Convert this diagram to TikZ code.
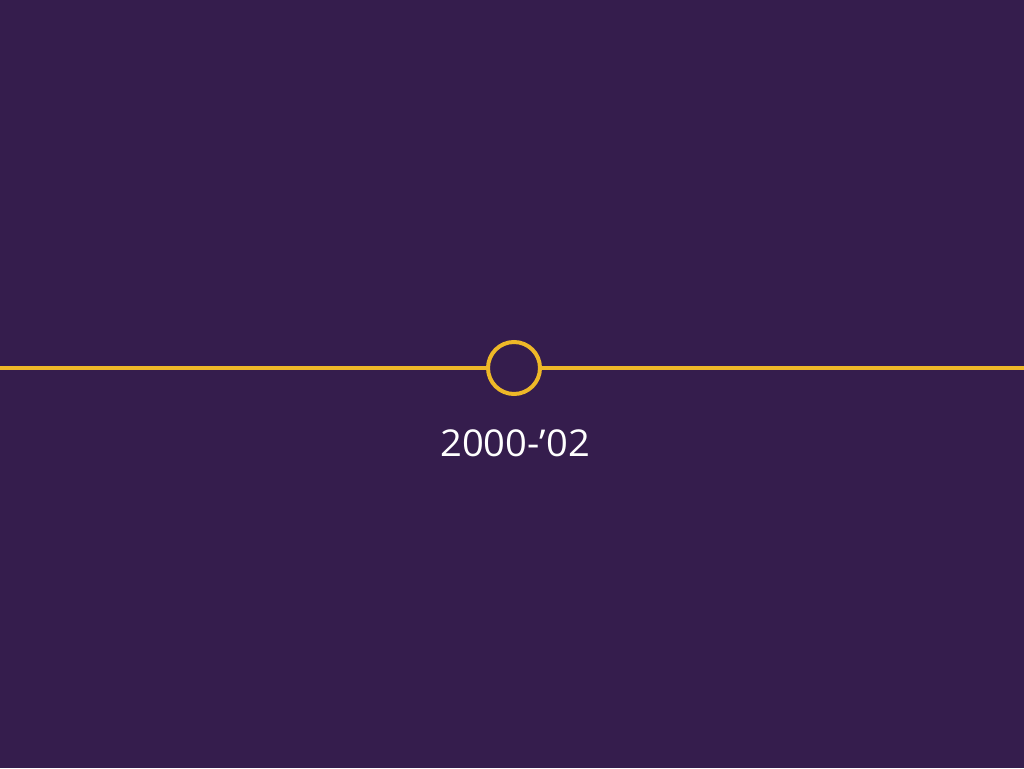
\documentclass[tikz,border=0pt]{standalone}
\usepackage{fontspec}
\setmainfont{Open Sans}
\definecolor{bgpurple}{RGB}{53,29,77}
\definecolor{lineyellow}{RGB}{238,184,40}
\begin{document}
\begin{tikzpicture}[x=1pt,y=1pt,
  tl/.style={draw=lineyellow,line width=4pt},
  dot/.style={circle,draw=lineyellow,line width=4pt,minimum size=52pt,inner sep=0pt},
  lbl/.style={text=white,font=\fontsize{37}{40}\selectfont,inner sep=0pt}]
\fill[bgpurple] (0,0) rectangle (1024,768);
\useasboundingbox (0,0) rectangle (1024,768);
\node[dot] (c) at (514,400) {};
\coordinate (l) at (0,400);
\coordinate (r) at (1024,400);
\draw[tl] (l) -- (c.west);
\draw[tl] (c.east) -- (r);
\node[lbl,xscale=1.03] (t) at (515,325) {2000-’02};
\end{tikzpicture}
\end{document}
